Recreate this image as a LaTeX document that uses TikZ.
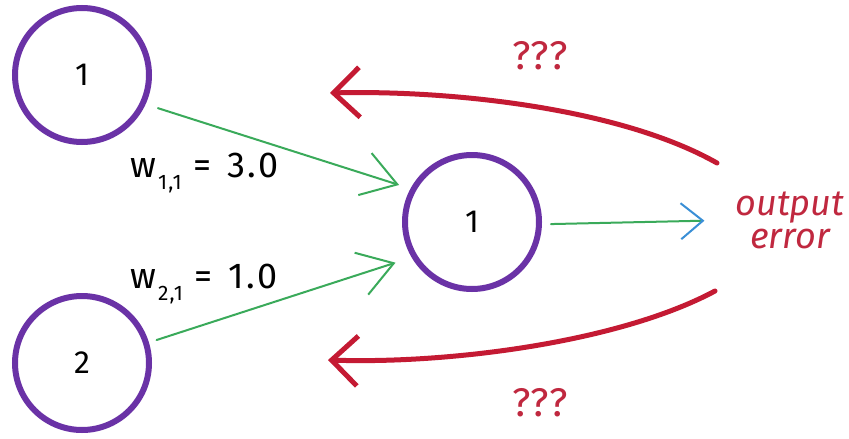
\documentclass[tikz,border=0pt]{standalone}
\usepackage{fontspec}
\setmainfont{Fira Sans}
\usetikzlibrary{arrows.meta}
\definecolor{purp}{HTML}{6A32A6}
\definecolor{redc}{HTML}{C41A33}
\definecolor{redt}{HTML}{C0283F}
\definecolor{greenc}{HTML}{3AAA5A}
\definecolor{bluec}{HTML}{3A8FD6}
\begin{document}
\begin{tikzpicture}[x=1pt,y=-1pt,
  neuron/.style={circle, draw=purp, line width=6pt, minimum size=134pt, inner sep=0pt, outer sep=0pt, font=\fontsize{32}{32}\selectfont},
  weight/.style={line width=2pt, draw=greenc, line cap=round, -{Straight Barb[length=34pt,width=44pt,line width=2pt]}},
  backarrow/.style={draw=redc, line width=5pt, line cap=round, -{Straight Barb[length=26pt,width=50pt]}},
  wlabel/.style={font=\fontsize{36}{36}\selectfont\addfontfeature{LetterSpace=6}, text=black, inner sep=0pt, anchor=west},
  qlabel/.style={font=\fontsize{40}{40}\selectfont\addfontfeature{LetterSpace=4}, text=redt, inner sep=0pt}]
\useasboundingbox (0,0) rectangle (849,439);
\fill[white] (0,0) rectangle (849,439);
\node[neuron] (n1) at (82,75) {1};
\node[neuron] (n2) at (82,363) {2};
\node[neuron] (m) at (472,222) {1};
\node[font=\fontsize{36}{33}\selectfont\itshape, text=redt, align=center, inner sep=0pt] (oe) at (790,220) {output\\error};
\node[wlabel] (w1) at (130,173) {w\kern2pt\raisebox{-12pt}{\fontsize{21}{21}\selectfont 1,1}\hspace{12pt}=\hspace{16pt}3.0};
\node[wlabel] (w2) at (130,284) {w\kern2pt\raisebox{-12pt}{\fontsize{21}{21}\selectfont 2,1}\hspace{12pt}=\hspace{16pt}1.0};
\node[qlabel] (q1) at (540,56) {???};
\node[qlabel] (q2) at (540,403) {???};
\draw[weight, shorten <=16pt, shorten >=15pt] (n1.-25) -- (m.151);
\draw[weight, shorten <=11pt, shorten >=20pt] (n2.17) -- (m.211);
\draw[line width=2pt, draw=greenc, line cap=round, shorten <=12pt, shorten >=31pt,
  -{Straight Barb[length=22pt,width=36pt,color=bluec,line width=2pt]}] (m.-2) -- (oe.west);
\coordinate (rt1) at (717,163);
\coordinate (rt2) at (330,93);
\coordinate (rb1) at (715,291);
\coordinate (rb2) at (328,360);
\draw[backarrow] (rt1) .. controls (620,108) and (450,90) .. (rt2);
\draw[backarrow] (rb1) .. controls (620,342) and (450,364) .. (rb2);
\end{tikzpicture}
\end{document}
